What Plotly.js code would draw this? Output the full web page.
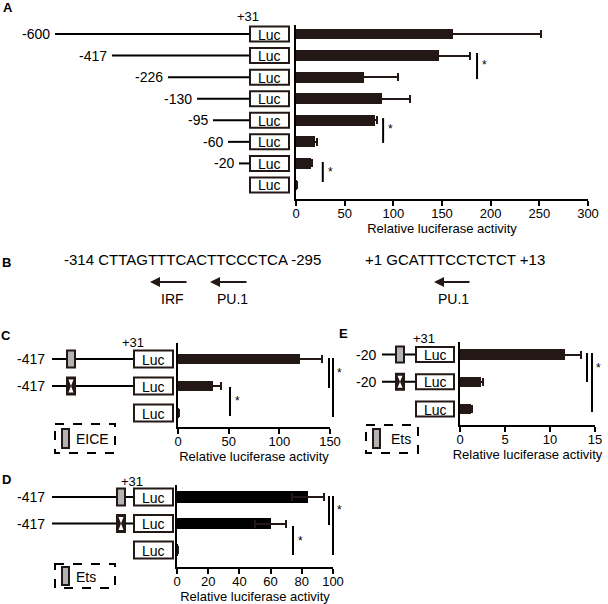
<!DOCTYPE html>
<html>
<head>
<meta charset="utf-8">
<script src="https://cdn.plot.ly/plotly-3.0.1.min.js"></script>
<style>html,body{margin:0;padding:0;background:#fff;}#chart{width:608px;height:604px;}</style>
</head>
<body>
<div id="chart"></div>
<script>
// ---------------- DATA ----------------
// Panel A: promoter deletion constructs
const constructsA = ['-600', '-417', '-226', '-130', '-95', '-60', '-20', 'none'];
const labelsA = ['-600', '-417', '-226', '-130', '-95', '-60', '-20', ''];
const valuesA = [161, 147, 70, 88, 81, 20, 15, 1];
const errorsA = [91, 32, 35, 29, 2, 2, 1, 0.3];
const ticksA = [0, 50, 100, 150, 200, 250, 300];

// Panel B: sequences
const seqB1 = '-314 CTTAGTTTCACTTCCCTCA -295';
const seqB2 = '+1 GCATTTCCTCTCT +13';
const sitesB = ['IRF', 'PU.1', 'PU.1'];

// Panel C: EICE mutation
const constructsC = ['-417 WT', '-417 mut', 'none'];
const labelsC = ['-417', '-417', ''];
const valuesC = [120, 35, 1];
const errorsC = [22, 7, 0.3];
const ticksC = [0, 50, 100, 150];

// Panel D: Ets mutation (-417)
const constructsD = ['-417 WT', '-417 mut', 'none'];
const labelsD = ['-417', '-417', ''];
const valuesD = [84, 60, 0.5];
const errorsD = [10, 10, 0.2];
const ticksD = [0, 20, 40, 60, 80, 100];

// Panel E: Ets mutation (-20)
const constructsE = ['-20 WT', '-20 mut', 'none'];
const labelsE = ['-20', '-20', ''];
const valuesE = [11.7, 2.3, 1.2];
const errorsE = [1.7, 0.2, 0.15];
const ticksE = [0, 5, 10, 15];

const axisTitle = 'Relative luciferase activity';

// ---------------- GEOMETRY / STYLE ----------------
const W = 608, H = 604;
const px = x => x / W;
const py = y => 1 - y / H;
const FONT = 'Liberation Sans, Arial, sans-serif';
const DARK = '#231815';
const GRAY = '#b3b3b3';

const shapes = [];
const annotations = [];

function line(x0, y0, x1, y1, w, dash) {
  shapes.push({type: 'line', xref: 'paper', yref: 'paper', x0: px(x0), y0: py(y0), x1: px(x1), y1: py(y1),
    line: {color: '#000', width: w || 2, dash: dash || 'solid'}});
}
function rect(x0, y0, x1, y1, fill, col, w, dash) {
  shapes.push({type: 'rect', xref: 'paper', yref: 'paper', x0: px(x0), y0: py(y0), x1: px(x1), y1: py(y1),
    fillcolor: fill, line: {color: col || DARK, width: w === undefined ? 2 : w, dash: dash || 'solid'}});
}
function text(t, x, y, size, xanchor, bold) {
  annotations.push({xref: 'paper', yref: 'paper', x: px(x), y: py(y), text: bold ? '<b>' + t + '</b>' : t,
    showarrow: false, xanchor: xanchor || 'center', yanchor: 'middle',
    font: {family: FONT, size: size || 14, color: '#000'}});
}
function lucBox(x0, x1, yc, h) {
  rect(x0, yc - h / 2, x1, yc + h / 2, '#fff', DARK, 2);
  text('Luc', (x0 + x1) / 2, yc + 0.5, 14);
}
function element(x0, x1, yc, h, mutated) {
  rect(x0, yc - h / 2, x1, yc + h / 2, mutated ? DARK : GRAY, DARK, 2);
  if (mutated) {
    const a = x0 + 1.5, b = x1 - 1.5, t = yc - h / 2 + 2, bt = yc + h / 2 - 2, xc = (x0 + x1) / 2;
    shapes.push({type: 'path', xref: 'paper', yref: 'paper',
      path: `M ${px(a)},${py(t)} L ${px(b)},${py(t)} L ${px(xc)},${py(yc)} L ${px(b)},${py(bt)} L ${px(a)},${py(bt)} L ${px(xc)},${py(yc)} Z`,
      fillcolor: '#fff', line: {color: '#fff', width: 0}});
  }
}

// Panel geometry (pixels)
const geoA = {x0: 296, x1: 588, yTop: 25, yBot: 199, row0: 34, step: 21.57};
const geoC = {x0: 178, x1: 330, yTop: 343, yBot: 427, row0: 359, step: 27};
const geoD = {x0: 177, x1: 333, yTop: 485, yBot: 567, row0: 497, step: 26.5};
const geoE = {x0: 460, x1: 595, yTop: 342, yBot: 425, row0: 354.5, step: 27.3};
const rowY = (g, i) => g.row0 + i * g.step;
const yRange = g => [(g.yBot - g.row0) / g.step, (g.yTop - g.row0) / g.step];

// ---------------- TRACES ----------------
function barTrace(cats, vals, errs, xa, ya, width, color) {
  return {type: 'bar', orientation: 'h', y: cats, x: vals, xaxis: xa, yaxis: ya, width: width,
    marker: {color: color, line: {width: 0}},
    error_x: {type: 'data', array: errs, visible: true, color: DARK, thickness: 2, width: 4},
    hoverinfo: 'x', showlegend: false};
}
const data = [
  barTrace(constructsA, valuesA, errorsA, 'x', 'y', 0.5, DARK),
  barTrace(constructsC, valuesC, errorsC, 'x2', 'y2', 0.38, DARK),
  barTrace(constructsD, valuesD, errorsD, 'x3', 'y3', 0.43, '#000'),
  barTrace(constructsE, valuesE, errorsE, 'x4', 'y4', 0.38, DARK)
];

function xAxis(g, range, ticks, anchor) {
  return {domain: [px(g.x0), px(g.x1)], range: range, anchor: anchor, showline: true, linewidth: 2, linecolor: '#000',
    ticks: 'outside', ticklen: 5, tickwidth: 2, tickcolor: '#000', tickvals: ticks, ticktext: ticks.map(String),
    ticklabelstandoff: -4,
    showgrid: false, zeroline: false, fixedrange: true,
    tickfont: {family: FONT, size: 13, color: '#000'},
    title: {text: axisTitle, font: {family: FONT, size: 13, color: '#000'}, standoff: 0}};
}
function yAxis(g, cats, anchor) {
  return {domain: [py(g.yBot), py(g.yTop)], type: 'category', categoryarray: cats, range: yRange(g), anchor: anchor,
    showline: true, linewidth: 2, linecolor: '#000', ticks: '', showticklabels: false, showgrid: false,
    zeroline: false, fixedrange: true};
}

// ---------------- PANEL A DIAGRAM ----------------
const startA = [55, 112, 168, 197, 213, 228, 239, null];
labelsA.forEach((lab, i) => {
  const y = rowY(geoA, i);
  if (startA[i] !== null) {
    line(startA[i], y, 250, y, 2);
    text(lab, startA[i] - 3, y, 14, 'right');
  }
  lucBox(250, 289, y, 15);
});
text('+31', 248, 16, 13);
text('A', 8, 7, 13, 'center', true);

// significance (A)
const sigA = [{x: 186, a: 0.88, b: 2.09, s: 1.45}, {x: 89.5, a: 3.9, b: 5.05, s: 4.4}, {x: 27.5, a: 5.93, b: 6.86, s: 6.4}];
sigA.forEach(s => {
  shapes.push({type: 'line', xref: 'x', yref: 'y', x0: s.x, x1: s.x, y0: s.a, y1: s.b, line: {color: '#000', width: 2}});
  annotations.push({xref: 'x', yref: 'y', x: s.x + 3, y: s.s, text: '*', showarrow: false, xanchor: 'left',
    yanchor: 'middle', font: {family: FONT, size: 12, color: '#000'}});
});

// ---------------- PANEL B ----------------
text('B', 6, 262, 13, 'center', true);
text(seqB1, 192, 259, 15);
text(seqB2, 455, 259, 15);
const arrowsB = [{h: 150, t: 188, lab: 172}, {h: 210, t: 248, lab: 232}, {h: 434, t: 471, lab: 453}];
arrowsB.forEach((a, i) => {
  annotations.push({xref: 'paper', yref: 'paper', x: px(a.h), y: py(282), ax: a.t - a.h, ay: 0, text: '',
    showarrow: true, arrowhead: 2, arrowsize: 1, arrowwidth: 2, arrowcolor: DARK});
  text(sitesB[i], a.lab, 299, 14);
});

// ---------------- PANEL C DIAGRAM ----------------
text('C', 6, 335, 13, 'center', true);
text('+31', 133, 342, 13);
labelsC.forEach((lab, i) => {
  const y = rowY(geoC, i);
  if (lab) {
    line(52, y, 134, y, 2);
    text(lab, 47, y, 14, 'right');
    element(67, 75, y, 17, i === 1);
  }
  lucBox(134, 173, y, 17);
});
rect(55, 424, 115, 453, 'rgba(0,0,0,0)', '#000', 2, 'dash');
element(62, 69, 438.5, 19, false);
text('EICE', 74, 439, 14, 'left');

// ---------------- PANEL D DIAGRAM ----------------
text('D', 6, 480, 13, 'center', true);
text('+31', 132, 481, 13);
labelsD.forEach((lab, i) => {
  const y = rowY(geoD, i);
  if (lab) {
    line(52, y, 134, y, 2);
    text(lab, 47, y, 14, 'right');
    element(117, 125, y, 17, i === 1);
  }
  lucBox(134, 173, y, 17);
});
rect(55, 564, 115, 588, 'rgba(0,0,0,0)', '#000', 2, 'dash');
element(62, 69, 576, 18, false);
text('Ets', 74, 577, 14, 'left');

// ---------------- PANEL E DIAGRAM ----------------
text('E', 343, 333, 13, 'center', true);
text('+31', 424, 338, 13);
labelsE.forEach((lab, i) => {
  const y = rowY(geoE, i);
  if (lab) {
    line(382, y, 416, y, 2);
    text(lab, 378, y, 14, 'right');
    element(396, 404, y, 16, i === 1);
  }
  lucBox(416, 454, y, 15);
});
rect(366, 425, 418, 453, 'rgba(0,0,0,0)', '#000', 2, 'dash');
element(373, 380, 438.5, 19, false);
text('Ets', 389, 439, 14, 'left');

// ---------------- Outer significance brackets (C, D, E) ----------------
// C
line(329, 358, 329, 388, 2); line(333, 358, 333, 417, 2); text('*', 339, 373, 12);
line(230, 387, 230, 416, 2); text('*', 237, 401, 12);
// D
line(329, 496, 329, 525, 2); line(333, 496, 333, 555, 2); text('*', 339, 510, 12);
line(293, 526, 293, 555, 2); text('*', 300, 541, 12);
// E
line(587, 353, 587, 382, 2); line(592, 353, 592, 412, 2); text('*', 598, 368, 12);

const layout = {
  width: W, height: H, margin: {l: 0, r: 0, t: 0, b: 0}, paper_bgcolor: '#fff', plot_bgcolor: 'rgba(0,0,0,0)',
  showlegend: false, bargap: 0,
  font: {family: FONT, size: 13, color: '#000'},
  xaxis: xAxis(geoA, [0, 300], ticksA, 'y'),
  yaxis: yAxis(geoA, constructsA, 'x'),
  xaxis2: xAxis(geoC, [0, 150], ticksC, 'y2'),
  yaxis2: yAxis(geoC, constructsC, 'x2'),
  xaxis3: xAxis(geoD, [0, 100], ticksD, 'y3'),
  yaxis3: yAxis(geoD, constructsD, 'x3'),
  xaxis4: xAxis(geoE, [0, 15], ticksE, 'y4'),
  yaxis4: yAxis(geoE, constructsE, 'x4'),
  shapes: shapes,
  annotations: annotations
};

Plotly.newPlot('chart', data, layout, {displayModeBar: false, staticPlot: true});
</script>
</body>
</html>
